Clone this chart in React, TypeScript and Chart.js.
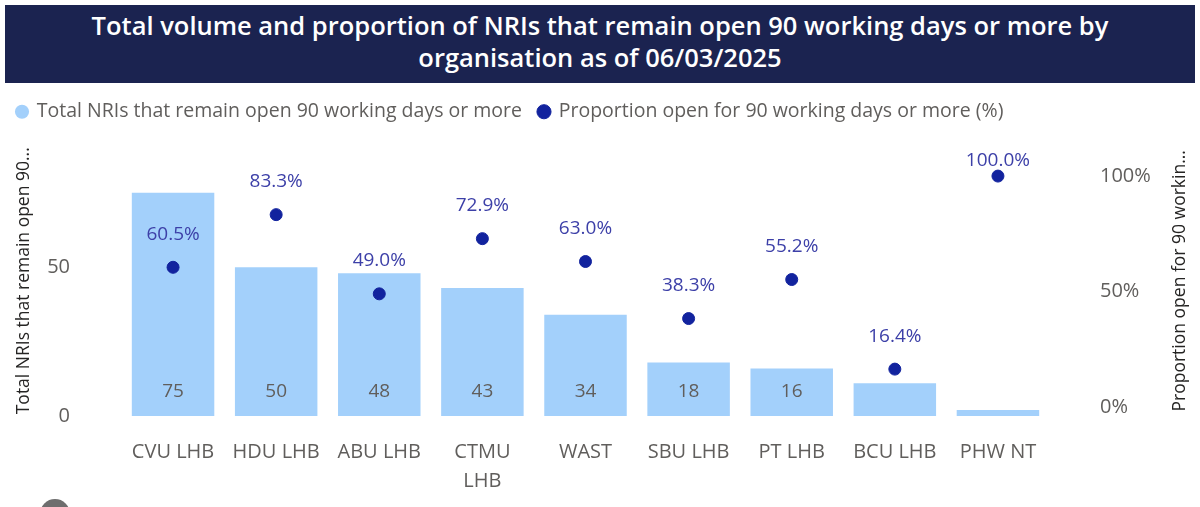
import React, { useEffect, useRef } from "react";
import { Chart, registerables } from "chart.js";

Chart.register(...registerables);

const categories: (string | string[])[] = [
  "CVU LHB",
  "HDU LHB",
  "ABU LHB",
  ["CTMU", "LHB"],
  "WAST",
  "SBU LHB",
  "PT LHB",
  "BCU LHB",
  "PHW NT",
];
const totalOpen: number[] = [75, 50, 48, 43, 34, 18, 16, 11, 2];
const proportionOpen: number[] = [60.5, 83.3, 49.0, 72.9, 63.0, 38.3, 55.2, 16.4, 100.0];
const leftTicks: number[] = [0, 50];
const rightTicks: number[] = [0, 50, 100];

const titleLines = [
  "Total volume and proportion of NRIs that remain open 90 working days or more by",
  "organisation as of 06/03/2025",
];
const barLabel = "Total NRIs that remain open 90 working days or more";
const pointLabel = "Proportion open for 90 working days or more (%)";
const leftAxisTitle = "Total NRIs that remain open 90...";
const rightAxisTitle = "Proportion open for 90 workin...";

const FONT = "'Open Sans', 'Noto Sans', sans-serif";
const BAR_COLOR = "#a3d0fb";
const POINT_COLOR = "#12239e";
const GRAY = "#605e5c";

const labelsPlugin = {
  id: "valueLabels",
  afterDatasetsDraw(chart: any) {
    const ctx = chart.ctx;
    const area = chart.chartArea;
    ctx.save();
    ctx.font = `19px ${FONT}`;
    ctx.textAlign = "center";
    ctx.textBaseline = "middle";
    const barMeta = chart.getDatasetMeta(0);
    barMeta.data.forEach((el: any, i: number) => {
      const h = el.base - el.y;
      if (h > 40) {
        ctx.fillStyle = GRAY;
        ctx.fillText(String(totalOpen[i]), el.x, el.base - 24);
      }
    });
    const ptMeta = chart.getDatasetMeta(1);
    ptMeta.data.forEach((el: any, i: number) => {
      const y = Math.max(el.y - 33, area.top + 29);
      ctx.fillStyle = "#3d40a8";
      ctx.fillText(proportionOpen[i].toFixed(1) + "%", el.x, y);
    });
    // axis titles, reading bottom to top
    const midY = (area.top + area.bottom) / 2 + 7;
    ctx.font = `17.5px ${FONT}`;
    ctx.fillStyle = "#252423";
    ctx.save();
    ctx.translate(24, midY);
    ctx.rotate(-Math.PI / 2);
    ctx.fillText(leftAxisTitle, 0, 0);
    ctx.restore();
    ctx.save();
    ctx.translate(1180, midY);
    ctx.rotate(-Math.PI / 2);
    ctx.fillText(rightAxisTitle, 0, 0);
    ctx.restore();
    ctx.restore();
  },
};

export default function App() {
  const canvasRef = useRef<HTMLCanvasElement | null>(null);

  useEffect(() => {
    if (!canvasRef.current) return;
    const chart = new Chart(canvasRef.current, {
      type: "bar",
      data: {
        labels: categories,
        datasets: [
          {
            type: "bar",
            label: barLabel,
            data: totalOpen,
            backgroundColor: BAR_COLOR,
            yAxisID: "y",
            categoryPercentage: 1,
            barPercentage: 0.8,
            order: 1,
          },
          {
            type: "line",
            label: pointLabel,
            data: proportionOpen,
            showLine: false,
            backgroundColor: POINT_COLOR,
            borderColor: POINT_COLOR,
            pointRadius: 6,
            pointStyle: "circle",
            yAxisID: "y1",
            order: 0,
          } as any,
        ],
      },
      options: {
        animation: false,
        responsive: false,
        maintainAspectRatio: false,
        layout: { padding: { top: 0, left: 0, right: 0, bottom: 0 } },
        plugins: {
          tooltip: { enabled: false },
          legend: {
            display: true,
            position: "top",
            align: "start",
            labels: {
              usePointStyle: true,
              pointStyle: "circle",
              boxWidth: 10,
              boxHeight: 10,
              padding: 17,
              color: GRAY,
              font: { family: FONT, size: 19.5 },
              sort: (a: any, b: any) => a.datasetIndex - b.datasetIndex,
            },
          },
        },
        scales: {
          x: {
            grid: { display: false, drawTicks: false },
            border: { display: false },
            ticks: {
              color: GRAY,
              font: { family: FONT, size: 20, lineHeight: 1.45 },
              padding: 21.5,
              maxRotation: 0,
              autoSkip: false,
            },
            afterFit(scale: any) {
              scale.height = 91;
            },
          },
          y: {
            position: "left",
            min: 0,
            max: 95.6,
            grid: { display: false, drawTicks: false },
            border: { display: false },
            afterBuildTicks(scale: any) {
              scale.ticks = leftTicks.map((v) => ({ value: v }));
            },
            ticks: {
              color: GRAY,
              font: { family: FONT, size: 20 },
              padding: 51.5,
            },
            afterFit(scale: any) {
              scale.width = 121.5;
            },
          },
          y1: {
            position: "right",
            min: -3.9,
            max: 119.3,
            grid: { display: false, drawTicks: false },
            border: { display: false },
            afterBuildTicks(scale: any) {
              scale.ticks = rightTicks.map((v) => ({ value: v }));
            },
            ticks: {
              color: GRAY,
              font: { family: FONT, size: 20 },
              padding: 50.5,
              callback: (v: any) => `${v}%`,
            },
            afterFit(scale: any) {
              scale.width = 150.5;
            },
          },
        },
      },
      plugins: [labelsPlugin],
    });
    return () => chart.destroy();
  }, []);

  return (
    <div
      style={{
        position: "fixed",
        left: 0,
        top: 0,
        width: 1200,
        height: 507,
        background: "#ffffff",
        overflow: "hidden",
        fontFamily: FONT,
      }}
    >
      <div
        style={{
          position: "absolute",
          left: 5,
          top: 5,
          width: 1190,
          height: 78,
          background: "#1b2350",
          color: "#ffffff",
          textAlign: "center",
          fontSize: 25.5,
          fontWeight: 600,
          lineHeight: "32px",
          paddingTop: 4,
          boxSizing: "border-box",
        }}
      >
        <div>{titleLines[0]}</div>
        <div>{titleLines[1]}</div>
      </div>
      <div style={{ position: "absolute", left: 0, top: 68, width: 1200, height: 439 }}>
        <canvas ref={canvasRef} width={1200} height={439} />
      </div>
      <div
        style={{
          position: "absolute",
          left: 40,
          top: 499,
          width: 30,
          height: 30,
          borderRadius: "50%",
          background: "#6e6e6e",
        }}
      />
    </div>
  );
}
